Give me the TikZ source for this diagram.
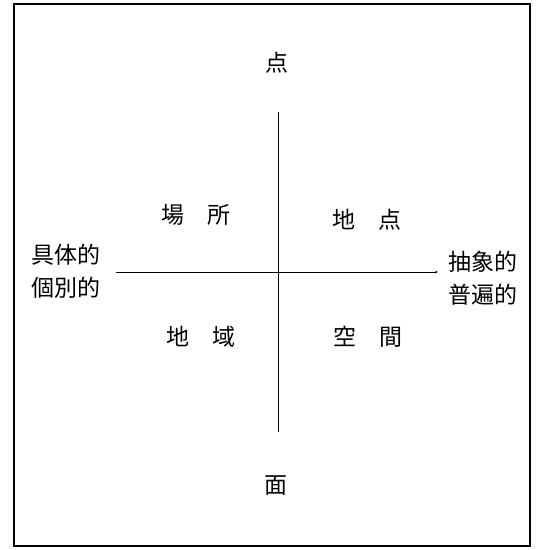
\documentclass[tikz,border=0pt]{standalone}
\usepackage{fontspec}
\setmainfont{Noto Sans CJK JP}
\usetikzlibrary{arrows.meta}
\begin{document}
\begin{tikzpicture}[x=1pt,y=-1pt,
  lbl/.style={inner sep=0pt,font=\fontsize{23}{33}\selectfont,align=center},
  axis/.style={line width=1pt,black}]
\useasboundingbox (0,0) rectangle (536,550);
\draw[line width=1.2pt] (14,4) rectangle (530,546);
\coordinate (L) at (116,272);
\coordinate (R) at (438,272);
\coordinate (T) at (278,112);
\coordinate (B) at (278,432);
\draw[axis] (T) -- (B);
\draw[axis,-{Stealth[length=3pt,width=2.5pt]}] (L) -- (R);
\node[lbl] (ten) at (277,63) {点};
\node[lbl] (men) at (276,486) {面};
\node[lbl] (basho) at (196,215) {場　所};
\node[lbl] (chiten) at (367,220) {地　点};
\node[lbl] (chiiki) at (201,337) {地　域};
\node[lbl] (kukan) at (368,337) {空　間};
\node[lbl] (left) at (66,271) {具体的\\個別的};
\node[lbl] (right) at (483,278) {抽象的\\普遍的};
\end{tikzpicture}
\end{document}
